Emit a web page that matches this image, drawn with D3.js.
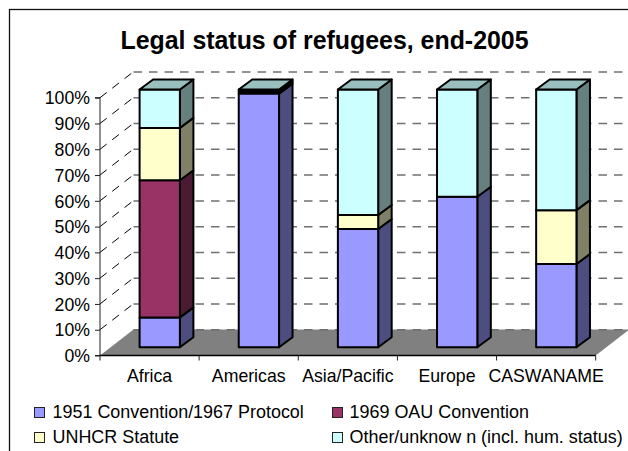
<!DOCTYPE html>
<html><head><meta charset="utf-8">
<script src="https://cdn.jsdelivr.net/npm/d3@7"></script>
<style>
html,body{margin:0;padding:0;background:#fff;overflow:hidden}
svg{display:block}
text{font-family:"Liberation Sans",Arial,sans-serif;fill:#000}
</style></head><body>
<svg id="c" width="628" height="451"></svg>
<script>
const categories = ["Africa","Americas","Asia/Pacific","Europe","CASWANAME"];
const seriesNames = ["1951 Convention/1967 Protocol","1969 OAU Convention","UNHCR Statute","Other/unknow n (incl. hum. status)"];
const convention1951 = [11.6, 98.4, 45.9, 58.4, 32.3];
const oau1969 = [53.2, 0, 0, 0, 0];
const unhcrStatute = [20.3, 0.8, 5.4, 0, 20.9];
const otherUnknown = [14.9, 0.8, 48.7, 41.6, 46.8];
const seriesValues = [convention1951, oau1969, unhcrStatute, otherUnknown];
const seriesColors = ["#9999FF","#993366","#FFFFCC","#CCFFFF"];
const sideColors = ["#4D4D80","#4D1A33","#808066","#668080"];
const topColors = ["#7373BF","#73264D","#BFBF99","#99BFBF"];
const yTicks = [0,10,20,30,40,50,60,70,80,90,100];

const svg = d3.select("#c");
const depthX = 33.5, depthY = 26;
const barDX = 13.5, barDY = 10;
const x = d3.scaleBand().domain(categories).range([100,595.7]);
const y = d3.scaleLinear().domain([0,100]).range([355.5,97.7]);
const barBase = d3.scaleLinear().domain([0,100]).range([347.3,89.5]);
const barW = 40.3, barInset = 39.6;
const fontSize = 17.7, legendFontSize = 17.95;

// frame
svg.append("rect").attr("x",9.5).attr("y",9.5).attr("width",640).attr("height",460)
  .attr("fill","#fff").attr("stroke","#111").attr("stroke-width",1.3);

// title
svg.append("text").attr("x",324.5).attr("y",49).attr("text-anchor","middle")
  .attr("font-size",24.9).attr("font-weight","bold").text("Legal status of refugees, end-2005");

const poly = pts => pts.map(p=>p.join(",")).join(" ");

// floor
const xL = x.range()[0], xR = x.range()[1];
svg.append("polygon").attr("fill","#808080")
  .attr("points",poly([[xL,y(0)],[xL+depthX,y(0)-depthY],[xR+depthX,y(0)-depthY],[xR,y(0)]]));

// back-wall and side-wall gridlines
yTicks.forEach(t=>{
  if(t>0) svg.append("line").attr("x1",xL).attr("y1",y(t)).attr("x2",xL+depthX).attr("y2",y(t)-depthY)
    .attr("stroke","#000").attr("stroke-width",1).attr("stroke-dasharray","8.5 7");
  svg.append("line").attr("x1",xL+depthX).attr("y1",y(t)-depthY+.3).attr("x2",xR+depthX).attr("y2",y(t)-depthY+.3)
    .attr("stroke",t===0?"#6e6e6e":"#707070").attr("stroke-width",1.5).attr("stroke-dasharray","8.5 7");
});

// axes
const yAxis = d3.axisLeft(y).tickValues(yTicks).tickFormat(d=>d+"%").tickSize(5).tickPadding(5);
const gy = svg.append("g").attr("transform",`translate(${xL},0)`).call(yAxis);
gy.selectAll("text").attr("font-size",fontSize).attr("font-family",'"Liberation Sans"').attr("dy","0.35em");
gy.selectAll("path,line").attr("stroke","#222");
gy.select("path").attr("d",`M${-5},${y(0)}H0V${y(100)}H-5`);

const xAxis = d3.axisBottom(x).tickSize(0).tickPadding(14);
const gx = svg.append("g").attr("transform",`translate(0,${y(0)})`).call(xAxis);
gx.select("path").attr("d",`M${xL},0H${xR}`).attr("stroke","#000").attr("stroke-width",1.3);
gx.selectAll("text").attr("font-size",fontSize).attr("font-family",'"Liberation Sans"');
[...categories.map(c=>x(c)),xR].forEach(px=>{
  gx.append("line").attr("x1",px).attr("x2",px).attr("y1",0).attr("y2",5).attr("stroke","#222");
});

// bars
categories.forEach((c,i)=>{
  const bx = x(c)+barInset;
  let acc = 0;
  const g = svg.append("g").attr("stroke","#000").attr("stroke-width",2).attr("stroke-linejoin","round");
  seriesValues.forEach((vals,s)=>{
    const v = vals[i];
    if(v<=0) return;
    const y0 = barBase(acc), y1 = barBase(acc+v);
    g.append("polygon").attr("fill",sideColors[s])
      .attr("points",poly([[bx+barW,y0],[bx+barW+barDX,y0-barDY],[bx+barW+barDX,y1-barDY],[bx+barW,y1]]));
    g.append("rect").attr("x",bx).attr("y",y1).attr("width",barW).attr("height",y0-y1).attr("fill",seriesColors[s]);
    acc += v;
    if(acc>=99.99){
      g.append("polygon").attr("fill",topColors[s])
        .attr("points",poly([[bx,y1],[bx+barDX,y1-barDY],[bx+barW+barDX,y1-barDY],[bx+barW,y1]]));
    }
  });
});

// legend
const legendX = [34.5,332.5], legendTextX = [52.5,349.5], legendY = [407.5,432.5];
seriesNames.forEach((n,i)=>{
  const col = i%2, row = Math.floor(i/2);
  svg.append("rect").attr("x",legendX[col]).attr("y",legendY[row]).attr("width",10).attr("height",10)
    .attr("fill",seriesColors[i]).attr("stroke","#222").attr("stroke-width",1);
  svg.append("text").attr("x",legendTextX[col]).attr("y",legendY[row]+10.5).attr("font-size",legendFontSize).text(n);
});
</script></body></html>
